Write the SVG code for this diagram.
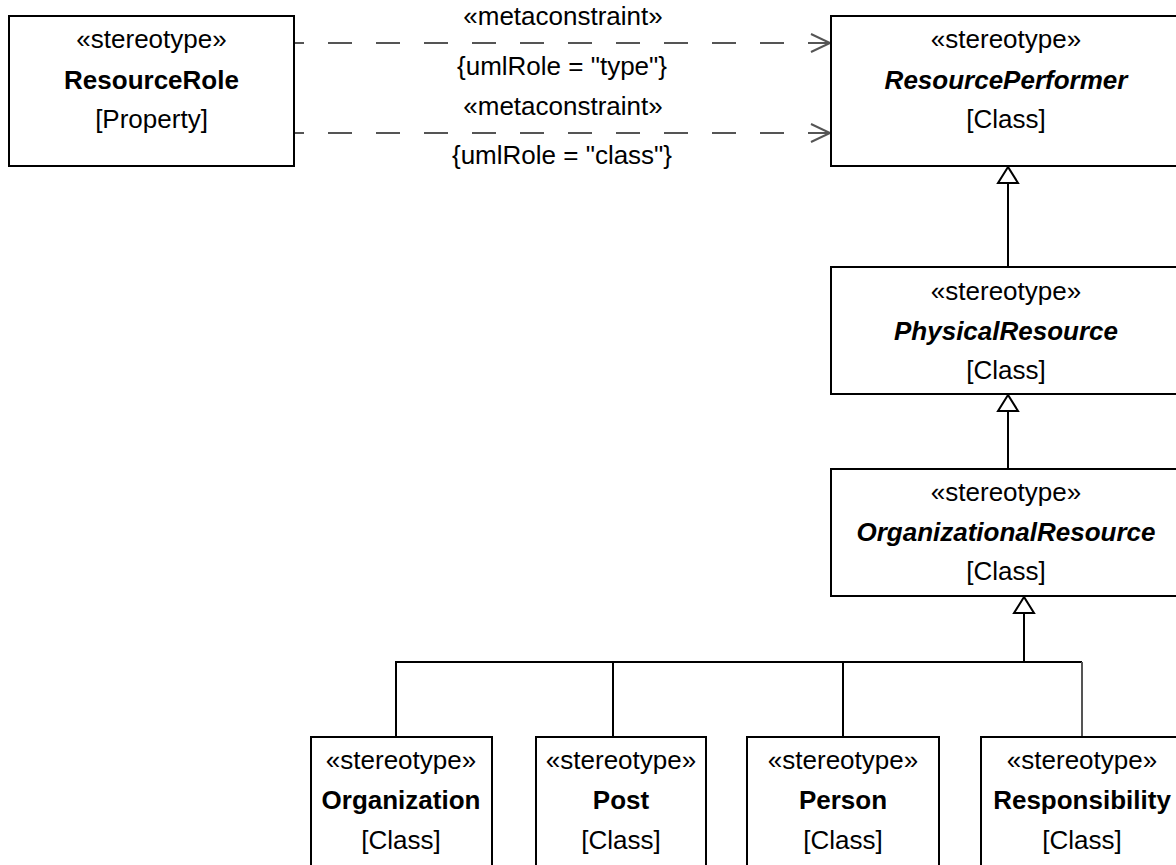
<svg xmlns="http://www.w3.org/2000/svg" width="1176" height="865" viewBox="0 0 1176 865">
<style>
.box{fill:#fff;stroke:#000;stroke-width:2}
.t{font-family:"Liberation Sans",Arial,sans-serif;font-size:26px;text-anchor:middle;fill:#000}
.b{font-weight:bold}
.bi{font-weight:bold;font-style:italic}
.lbl{font-family:"Liberation Sans",Arial,sans-serif;font-size:26px;text-anchor:middle;fill:#000}
.dep{fill:none;stroke:#555;stroke-width:2;stroke-dasharray:24 24}
.gen{fill:none;stroke:#000;stroke-width:2}
.tri{fill:#fff;stroke:#000;stroke-width:2}
</style>
<defs>
<marker id="open" markerWidth="24" markerHeight="24" refX="20" refY="10" orient="auto" markerUnits="userSpaceOnUse">
<path d="M1,1 L20,10 L1,19" fill="none" stroke="#555" stroke-width="2"/>
</marker>
</defs>
<rect width="1176" height="865" fill="#fff"/>
<g id="connectors">
<line class="dep" x1="294" y1="43" x2="830" y2="43" stroke-dashoffset="14" marker-end="url(#open)"/>
<line class="dep" x1="294" y1="133" x2="830" y2="133" stroke-dashoffset="14" marker-end="url(#open)"/>
<text class="lbl" x="563" y="25">«metaconstraint»</text>
<text class="lbl" x="562" y="75">{umlRole = "type"}</text>
<text class="lbl" x="563" y="115">«metaconstraint»</text>
<text class="lbl" x="562" y="164">{umlRole = "class"}</text>
<line class="gen" x1="1008" y1="183" x2="1008" y2="267"/>
<polygon class="tri" points="1008,167 998,183 1018,183"/>
<line class="gen" x1="1008" y1="411" x2="1008" y2="469"/>
<polygon class="tri" points="1008,395 998,411 1018,411"/>
<line class="gen" x1="1024" y1="613" x2="1024" y2="662"/>
<polygon class="tri" points="1024,597 1014,613 1034,613"/>
<polyline class="gen" points="396,737 396,662 1082,662"/>
<line class="gen" x1="613" y1="662" x2="613" y2="737"/>
<line class="gen" x1="843" y1="662" x2="843" y2="737"/>
<line x1="1082" y1="662" x2="1082" y2="737" stroke="#555" stroke-width="2"/>
</g>
<g id="ResourceRole">
<rect class="box" x="9" y="16" width="285" height="150"/>
<text class="t" x="151.5" y="48">«stereotype»</text>
<text class="t b" x="151.5" y="89">ResourceRole</text>
<text class="t" x="151.5" y="128">[Property]</text>
</g>
<g id="ResourcePerformer">
<rect class="box" x="831" y="16" width="350" height="150"/>
<text class="t" x="1006" y="48">«stereotype»</text>
<text class="t bi" x="1006" y="89">ResourcePerformer</text>
<text class="t" x="1006" y="128">[Class]</text>
</g>
<g id="PhysicalResource">
<rect class="box" x="831" y="267" width="350" height="127"/>
<text class="t" x="1006" y="300">«stereotype»</text>
<text class="t bi" x="1006" y="340">PhysicalResource</text>
<text class="t" x="1006" y="379">[Class]</text>
</g>
<g id="OrganizationalResource">
<rect class="box" x="831" y="469" width="350" height="127"/>
<text class="t" x="1006" y="501">«stereotype»</text>
<text class="t bi" x="1006" y="541">OrganizationalResource</text>
<text class="t" x="1006" y="580">[Class]</text>
</g>
<g id="Organization">
<rect class="box" x="311" y="737" width="181" height="150"/>
<text class="t" x="401" y="769">«stereotype»</text>
<text class="t b" x="401" y="809">Organization</text>
<text class="t" x="401" y="849">[Class]</text>
</g>
<g id="Post">
<rect class="box" x="536" y="737" width="170" height="150"/>
<text class="t" x="621" y="769">«stereotype»</text>
<text class="t b" x="621" y="809">Post</text>
<text class="t" x="621" y="849">[Class]</text>
</g>
<g id="Person">
<rect class="box" x="747" y="737" width="192" height="150"/>
<text class="t" x="843" y="769">«stereotype»</text>
<text class="t b" x="843" y="809">Person</text>
<text class="t" x="843" y="849">[Class]</text>
</g>
<g id="Responsibility">
<rect class="box" x="981" y="737" width="202" height="150"/>
<text class="t" x="1082" y="769">«stereotype»</text>
<text class="t b" x="1082" y="809">Responsibility</text>
<text class="t" x="1082" y="849">[Class]</text>
</g>
</svg>
